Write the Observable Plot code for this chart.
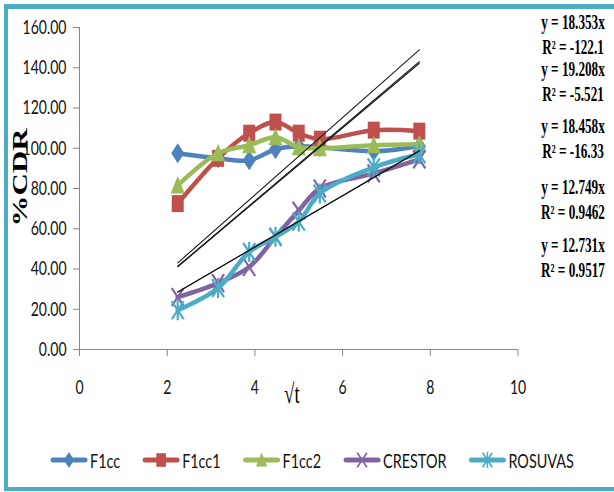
<!DOCTYPE html>
<html>
<head>
<meta charset="utf-8">
<script src="https://cdn.jsdelivr.net/npm/d3@7"></script>
<script src="https://cdn.jsdelivr.net/npm/@observablehq/plot@0.6"></script>
<style>
  html, body { margin: 0; padding: 0; background: #fff; }
  #page { position: relative; width: 614px; height: 492px; overflow: hidden; background: #fff; }
  #frame { position: absolute; left: 4px; top: 4px; width: 640px; height: 487px; box-sizing: border-box;
           border-style: solid; border-color: #4BACC6; border-width: 5px 4px 4px 4px; pointer-events: none; }
  #notes { position: absolute; left: 0; top: 0; pointer-events: none; }
  #legend { display: block; }
</style>
</head>
<body>
<div id="page">
  <div id="chart"></div>
  <svg id="legend" width="614" height="52"></svg>
  <svg id="notes" width="614" height="492"></svg>
  <div id="frame"></div>
</div>
<script>
// sampling points: square root of time
const xs = [2.24, 3.16, 3.87, 4.47, 5.00, 5.48, 6.71, 7.75];

// % cumulative drug release for each formulation
const f1cc    = [97.5, 95.0, 94.0, 99.5, 101.0, 100.5, 98.5, 101.0];
const f1cc1   = [72.5, 95.0, 107.5, 113.0, 107.5, 104.5, 109.0, 108.5];
const f1cc2   = [81.5, 97.5, 101.5, 105.5, 100.5, 100.0, 101.5, 102.0];
const crestor = [26.0, 33.0, 41.0, 56.0, 69.0, 80.0, 87.5, 94.5];
const rosuvas = [19.5, 30.5, 48.5, 56.0, 63.5, 77.5, 90.5, 97.0];

const seriesNames  = ["F1cc", "F1cc1", "F1cc2", "CRESTOR", "ROSUVAS"];
const seriesValues = [f1cc, f1cc1, f1cc2, crestor, rosuvas];
const seriesColors = ["#4F81BD", "#C0504D", "#9BBB59", "#8064A2", "#4BACC6"];

// linear trendlines through the origin (y = slope * x)
const slopes    = [18.353, 19.208, 18.458, 12.749, 12.731];
const rSquared  = ["-122.1", "-5.521", "-16.33", "0.9462", "0.9517"];

const xTicks = [0, 2, 4, 6, 8, 10];
const yTicks = [0, 20, 40, 60, 80, 100, 120, 140, 160];

const axisGray = "#868686";
const squeezeK = 0.7;

// marker shapes, a little taller than wide
function poly(pts) {
  return { draw(ctx) { ctx.moveTo(pts[0][0], pts[0][1]); for (const p of pts.slice(1)) ctx.lineTo(p[0], p[1]); ctx.closePath(); } };
}
function segs(list) {
  return { draw(ctx) { for (const [a, b, c, d] of list) { ctx.moveTo(a, b); ctx.lineTo(c, d); } } };
}
function markerSymbols(s) {
  return [
    poly([[0, -10 * s], [6.5 * s, 0], [0, 10 * s], [-6.5 * s, 0]]),
    poly([[-6 * s, -8.5 * s], [6 * s, -8.5 * s], [6 * s, 8.5 * s], [-6 * s, 8.5 * s]]),
    poly([[0, -9.5 * s], [7 * s, 8 * s], [-7 * s, 8 * s]]),
    segs([[-6 * s, -9 * s, 6 * s, 9 * s], [6 * s, -9 * s, -6 * s, 9 * s]]),
    segs([[-6 * s, -9 * s, 6 * s, 9 * s], [6 * s, -9 * s, -6 * s, 9 * s], [0, -10 * s, 0, 10 * s]])
  ];
}
const filled = [true, true, true, false, false];
const chartSymbols = markerSymbols(1);

const seriesMarks = seriesValues.flatMap((vals, i) => {
  const rows = xs.map((x, j) => ({ x, y: vals[j] }));
  return [
    Plot.line(rows, { x: "x", y: "y", stroke: seriesColors[i], strokeWidth: 4.5, curve: "catmull-rom", strokeLinejoin: "round", strokeLinecap: "round" }),
    Plot.dot(rows, filled[i]
      ? { x: "x", y: "y", symbol: chartSymbols[i], fill: seriesColors[i], stroke: "none" }
      : { x: "x", y: "y", symbol: chartSymbols[i], fill: "none", stroke: seriesColors[i], strokeWidth: 2.2 })
  ];
});

const trendMarks = slopes.map((m) => {
  const ends = [xs[0], xs[xs.length - 1]].map((x) => ({ x, y: m * x }));
  return Plot.line(ends, { x: "x", y: "y", stroke: "#1a1a1a", strokeWidth: 1.1 });
});

const plot = Plot.plot({
  width: 614,
  height: 440,
  marginLeft: 79,
  marginRight: 96.5,
  marginTop: 27,
  marginBottom: 91,
  style: { fontFamily: "Lato, sans-serif", fontSize: "20px", color: "#000", background: "transparent", overflow: "visible" },
  x: { domain: [0, 10] },
  y: { domain: [0, 160] },
  marks: [
    Plot.ruleY([0], { stroke: axisGray }),
    Plot.ruleX([0], { stroke: axisGray }),
    Plot.axisY(yTicks, { tickSize: 6, tickPadding: 7, tickFormat: (d) => d.toFixed(2), stroke: axisGray, fill: "#111", label: null }),
    Plot.axisX(xTicks, { tickSize: 7, tickPadding: 23, stroke: axisGray, fill: "#111", label: null }),
    ...seriesMarks,
    ...trendMarks
  ]
});
document.getElementById("chart").appendChild(plot);

function squeeze(node, k) {
  const w = node.getComputedTextLength();
  if (w > 0) {
    node.setAttribute("textLength", (w * k).toFixed(2));
    node.setAttribute("lengthAdjust", "spacingAndGlyphs");
  }
  return node;
}
plot.querySelectorAll('g[aria-label$="tick label"] text').forEach((t) => squeeze(t, squeezeK));

// place a text so that its box is centred on (cx, cy), narrowed by kx
function placeCentered(node, cx, cy, kx, rotate) {
  const bb = node.getBBox();
  const mx = bb.x + bb.width / 2, my = bb.y + bb.height / 2;
  node.setAttribute("transform",
    `translate(${cx},${cy}) scale(${kx},1)${rotate ? ` rotate(${rotate})` : ""} translate(${-mx},${-my})`);
}

// axis titles and trendline equations
const notes = d3.select("#notes");
const yTitle = notes.append("text")
  .style("font", "bold 31px 'Liberation Serif', serif")
  .attr("fill", "#000")
  .text("%CDR");
placeCentered(yTitle.node(), 20, 177, 0.7, -90);

const xTitle = notes.append("text")
  .style("font", "27px 'Liberation Serif', serif")
  .attr("fill", "#000")
  .text("√t");
placeCentered(xTitle.node(), 292, 394, 0.7, 0);

const eqTops = [22, 69, 126, 187, 245];
slopes.forEach((m, i) => {
  const lines = [`y = ${m.toFixed(3)}x`, `R² = ${rSquared[i]}`];
  lines.forEach((s, j) => {
    const t = notes.append("text")
      .style("font", "bold 20px 'Liberation Serif', serif")
      .attr("fill", "#000")
      .text(s);
    placeCentered(t.node(), 573, eqTops[i] + j * 25, 0.66, 0);
  });
});

// legend below the chart
const legend = d3.select("#legend");
const legendSymbols = markerSymbols(0.8);
let lx = 53;
const ly = 20;
seriesNames.forEach((name, i) => {
  const g = legend.append("g");
  g.append("line").attr("x1", lx).attr("x2", lx + 32).attr("y1", ly).attr("y2", ly)
    .attr("stroke", seriesColors[i]).attr("stroke-width", 5).attr("stroke-linecap", "round");
  const p = g.append("path").attr("d", d3.symbol(legendSymbols[i])()).attr("transform", `translate(${lx + 16},${ly})`);
  if (filled[i]) p.attr("fill", seriesColors[i]);
  else p.attr("fill", "none").attr("stroke", seriesColors[i]).attr("stroke-width", 1.6);
  const t = g.append("text").attr("x", lx + 37).attr("y", ly).attr("dominant-baseline", "central")
    .style("font", "20px Lato, sans-serif").attr("fill", "#111").text(name);
  squeeze(t.node(), 0.72);
  lx += 37 + t.node().getComputedTextLength() + 25;
});
</script>
</body>
</html>
